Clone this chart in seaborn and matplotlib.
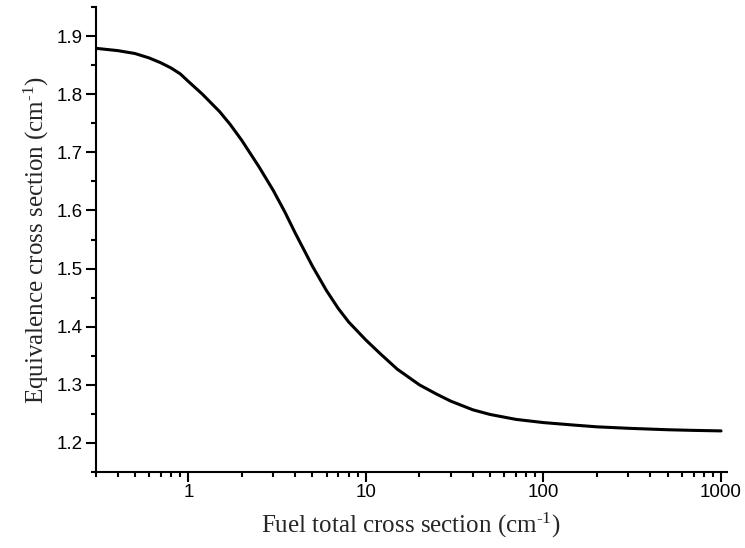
import matplotlib
matplotlib.use("Agg")
import matplotlib.pyplot as plt
import matplotlib.ticker as mticker
import seaborn as sns
import pandas as pd

# Data
fuel_xs = [0.3, 0.4, 0.5, 0.6, 0.7, 0.8, 0.9, 1.0, 1.2, 1.5, 1.72, 2.0, 2.5, 3.0,
           3.5, 4.0, 5.0, 6.0, 7.0, 8.0, 10.0, 12.0, 15.0, 20.0, 25.0, 30.0, 40.0,
           50.0, 70.0, 100.0, 150.0, 200.0, 300.0, 500.0, 700.0, 1000.0]
equiv_xs = [1.879, 1.875, 1.870, 1.8625, 1.854, 1.845, 1.835, 1.822, 1.800, 1.770,
            1.748, 1.7205, 1.675, 1.635, 1.597, 1.561, 1.504, 1.462, 1.431, 1.408,
            1.377, 1.354, 1.327, 1.300, 1.284, 1.272, 1.257, 1.249, 1.2405, 1.235,
            1.2306, 1.2277, 1.2252, 1.2227, 1.2216, 1.2207]
x_major = [1, 10, 100, 1000]
x_major_labels = ["1", "10", "100", "1000"]
y_major = [1.2, 1.3, 1.4, 1.5, 1.6, 1.7, 1.8, 1.9]
y_major_labels = ["1.2", "1.3", "1.4", "1.5", "1.6", "1.7", "1.8", "1.9"]

df = pd.DataFrame({"fuel": fuel_xs, "equiv": equiv_xs})

sns.set_style("ticks")
plt.rcParams["mathtext.fontset"] = "custom"
plt.rcParams["mathtext.rm"] = "Liberation Serif"
plt.rcParams["mathtext.it"] = "Liberation Serif:italic"

fig = plt.figure(figsize=(7.45, 5.48), dpi=100)
ax = fig.add_axes([0.1282, 0.1387, 0.8476, 0.8485])

sns.lineplot(data=df, x="fuel", y="equiv", color="black", linewidth=2.2, ax=ax,
             sort=False, estimator=None)

ax.set_xscale("log")
ax.set_xlim(0.3, 1080)
ax.set_ylim(1.15, 1.95)

ax.xaxis.set_major_locator(mticker.FixedLocator(x_major))
ax.xaxis.set_major_formatter(mticker.FixedFormatter(x_major_labels))
ax.xaxis.set_minor_locator(mticker.LogLocator(base=10, subs=[2, 3, 4, 5, 6, 7, 8, 9], numticks=20))
ax.xaxis.set_minor_formatter(mticker.NullFormatter())

ax.yaxis.set_major_locator(mticker.FixedLocator(y_major))
ax.yaxis.set_major_formatter(mticker.FixedFormatter(y_major_labels))
ax.yaxis.set_minor_locator(mticker.MultipleLocator(0.05))

for s in ["top", "right"]:
    ax.spines[s].set_visible(False)
for s in ["left", "bottom"]:
    ax.spines[s].set_linewidth(1.5)
    ax.spines[s].set_color("black")

ax.tick_params(which="major", direction="out", length=7, width=1.5, color="black",
               labelsize=13.5, pad=2, labelcolor="black")
ax.tick_params(which="minor", direction="out", length=3.8, width=1.5, color="black")
for lab in ax.get_xticklabels() + ax.get_yticklabels():
    lab.set_family("Liberation Sans")

ax.set_xlabel(r"Fuel total cross section (cm$^{\text{-}1}$)", fontsize=18,
              family="Liberation Serif", labelpad=7)
ax.set_ylabel(r"Equivalence cross section (cm$^{\text{-}1}$)", fontsize=18,
              family="Liberation Serif", labelpad=4)

fig.savefig("out.png", dpi=100)
